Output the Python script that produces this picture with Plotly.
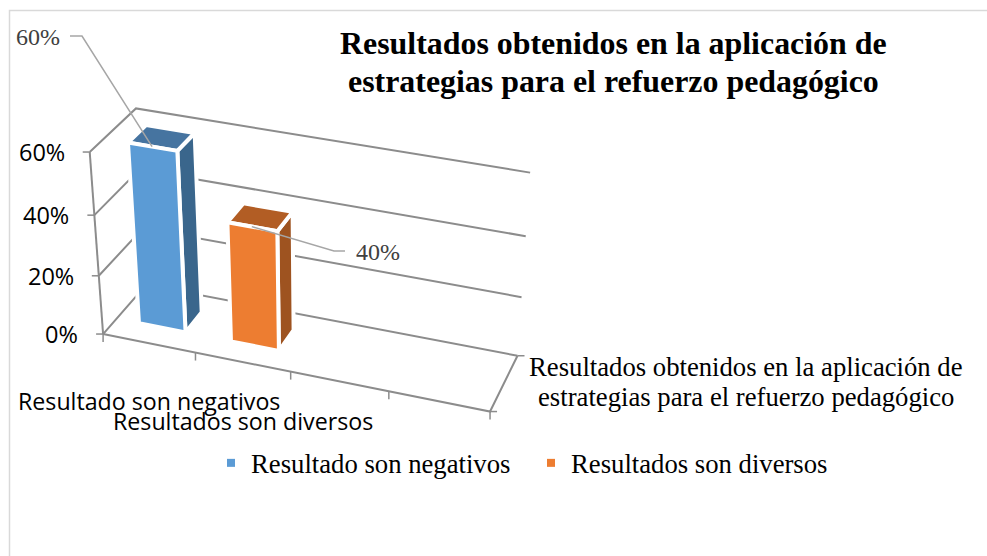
import numpy as np
import plotly.graph_objects as go

series_names = ["Resultado son negativos", "Resultados son diversos"]
series_values = [60, 40]
y_ticks = [0, 20, 40, 60]
y_tick_labels = ["0%", "20%", "40%", "60%"]
value_labels = ["60%", "40%"]
title_lines = ["Resultados obtenidos en la aplicación de", "estrategias para el refuerzo pedagógico"]
depth_lines = ["Resultados obtenidos en la aplicación de", "estrategias para el refuerzo pedagógico"]

front_colors = ["#5B9BD5", "#ED7D31"]
side_colors = ["#3A668C", "#9E5320"]
top_colors = ["#4674A0", "#B25D24"]
GRID = "#8C8C8C"
SANS = "Open Sans"
SERIF = "Liberation Serif"

N_SLOTS = 4
Y_MAX = 60
# calibration of the 3D view: (slot, depth, value) -> pixel
calib = [
    ((0, 0, 0), (104, 332)), ((0, 0, 20), (99, 275)), ((0, 0, 40), (95, 213)), ((0, 0, 60), (90, 152)),
    ((0, 1, 60), (135, 109)), ((0, 1, 0), (146, 286)),
    ((4, 1, 60), (530, 173)), ((4, 1, 40), (526, 237)), ((4, 1, 20), (522, 298)), ((4, 1, 0), (518, 352)),
    ((4, 0, 0), (490, 410)), ((1, 0, 0), (195, 354)), ((2, 0, 0), (290, 375)), ((3, 0, 0), (388, 393)),
]
A = []
for (u, d, v), (px, py) in calib:
    X = [u / N_SLOTS, d, v / Y_MAX, 1]
    A.append([*X, 0, 0, 0, 0, *[-px / 1000 * c for c in X]])
    A.append([0, 0, 0, 0, *X, *[-py / 1000 * c for c in X]])
P = np.linalg.svd(np.array(A))[2][-1].reshape(3, 4)


def proj(u, d, v):
    h = P @ np.array([u / N_SLOTS, d, v / Y_MAX, 1])
    return h[0] / h[2] * 1000, h[1] / h[2] * 1000


fig = go.Figure()


def line(pts, color=GRID, width=2):
    fig.add_trace(go.Scatter(x=[p[0] for p in pts], y=[p[1] for p in pts], mode="lines",
                             line=dict(color=color, width=width), hoverinfo="skip", showlegend=False))


def face(pts, color):
    pts = list(pts) + [pts[0]]
    fig.add_trace(go.Scatter(x=[p[0] for p in pts], y=[p[1] for p in pts], mode="lines", fill="toself",
                             fillcolor=color, line=dict(color="white", width=4), hoverinfo="skip",
                             showlegend=False))


def label(x, y, text, anchor, family, size, color="#000000"):
    fig.add_annotation(x=x, y=y, text=text, xanchor=anchor, yanchor="middle", showarrow=False,
                       font=dict(family=family, size=size, color=color))


# chart-area border
line([(9.5, 556), (9.5, 10.5), (987, 10.5)], "#D9D9D9", 1.5)

# walls and floor
for v in y_ticks:
    line([proj(0, 0, v), proj(0, 1, v), proj(4, 1, v)])
line([proj(0, 0, 0), proj(0, 0, Y_MAX)])
line([proj(0, 0, 0), proj(4, 0, 0), proj(4, 1, 0)])

# tick marks and value-axis labels
for v, lab in zip(y_ticks, y_tick_labels):
    x, y = proj(0, 0, v)
    line([(x - 7, y), (x, y)], GRID, 1.5)
    label(x - 23, y, lab, "right", SANS, 23.5)
for s in range(N_SLOTS + 1):
    x, y = proj(s, 0, 0)
    line([(x, y), (x, y + 8)], GRID, 1.5)
x, y = proj(4, 1, 0)
line([(x, y), (x + 7, y)], GRID, 1.5)
x, y = proj(4, 0, 0)
line([(x, y), (x + 7, y)], GRID, 1.5)

# bars
B0, B1, D0, D1 = 0.25, 0.76, 0.3, 0.7
for i, val in enumerate(series_values):
    u0, u1 = i + B0, i + B1
    face([proj(u1, D0, 0), proj(u1, D1, 0), proj(u1, D1, val), proj(u1, D0, val)], side_colors[i])
    face([proj(u0, D0, val), proj(u1, D0, val), proj(u1, D1, val), proj(u0, D1, val)], top_colors[i])
    face([proj(u0, D0, 0), proj(u1, D0, 0), proj(u1, D0, val), proj(u0, D0, val)], front_colors[i])

# data labels with leader lines
line([proj(0.5, D0, series_values[0]), (82, 36), (70, 36)], "#A6A6A6", 1.5)
label(62, 37, value_labels[0], "right", SERIF, 24, "#404040")
line([proj(1.5, D0, series_values[1]), (334, 251), (345, 251)], "#A6A6A6", 1.5)
label(354, 252, value_labels[1], "left", SERIF, 24, "#404040")

# category labels
label(148.5, 401, series_names[0], "center", SANS, 23.2)
label(242.5, 421, series_names[1], "center", SANS, 23.2)
# depth label
label(746, 367, depth_lines[0], "center", SERIF, 26.7)
label(746, 397, depth_lines[1], "center", SERIF, 26.7)
# title
label(613, 43, "<b>" + title_lines[0] + "</b>", "center", SERIF, 31.9)
label(613, 81, "<b>" + title_lines[1] + "</b>", "center", SERIF, 31.9)

# legend entries
for name, col in zip(series_names, front_colors):
    fig.add_trace(go.Scatter(x=[None], y=[None], mode="markers", name=name,
                             marker=dict(symbol="square", size=8, color=col)))

fig.update_layout(
    width=987, height=556, margin=dict(l=0, r=0, t=0, b=0),
    paper_bgcolor="white", plot_bgcolor="white",
    xaxis=dict(range=[0, 987], visible=False, fixedrange=True),
    yaxis=dict(range=[556, 0], visible=False, fixedrange=True),
    legend=dict(orientation="h", x=211 / 987, y=1 - 463 / 556, xanchor="left", yanchor="middle",
                bgcolor="rgba(0,0,0,0)", entrywidth=275, entrywidthmode="pixels",
                font=dict(family=SERIF, size=26.7, color="#000000")),
    hovermode=False,
)
fig.write_html("out.html", config=dict(displayModeBar=False), post_script="document.body.style.margin='0';")
